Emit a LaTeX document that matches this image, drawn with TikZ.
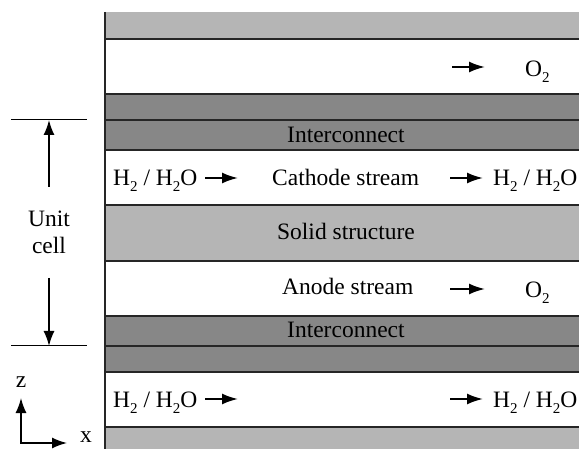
\documentclass[tikz,border=0pt]{standalone}
\usepackage{fontspec}
\setmainfont{Liberation Serif}
\usetikzlibrary{arrows.meta}
\definecolor{solidgray}{gray}{0.71}
\definecolor{icgray}{gray}{0.53}
\newcommand\lowsub[1]{\raisebox{-6pt}{\fontsize{15}{15}\selectfont #1}}

\begin{document}
\begin{tikzpicture}[x=1pt,y=-1pt,
	lbl/.style={inner sep=0pt, font=\fontsize{23.5}{27}\selectfont},
	flow/.style={-{Latex[length=16pt,width=11pt]}, line width=2pt},
	span/.style={-{Latex[length=15pt,width=11pt]}, line width=1.5pt}]
	\useasboundingbox (0,0) rectangle (579,449);
	
	% layers of the stack
	\foreach \ytop/\ybot/\col in {12/39/solidgray,94/120/icgray,120/150/icgray,205/261/solidgray,316/346/icgray,346/372/icgray,427/449/solidgray}
		\fill [\col] (105,\ytop) rectangle (579,\ybot);
	\foreach \y in {39,94,120,150,205,261,316,346,372,427}
		\draw [line width=1.3pt, black!85] (105,\y) -- (579,\y);
	\draw [line width=1.5pt, black!85] (105,12) -- (105,449);
	
	% unit cell
	\draw [line width=1pt] (11,120) -- (87,120);
	\draw [line width=1pt] (11,346) -- (87,346);
	\node [lbl, anchor=base] (unit) at (49,227) {Unit};
	\node [lbl, anchor=base] (cell) at (49,254) {cell};
	\coordinate (ctop) at (49,120);
	\coordinate (cbot) at (49,346);
	\coordinate (upfrom) at (49,187);
	\coordinate (downfrom) at (49,278);
	\draw [span] (upfrom) -- (ctop);
	\draw [span] (downfrom) -- (cbot);
	
	% axes
	\coordinate (origin) at (21,443);
	\coordinate (ztip) at (21,398);
	\coordinate (xtip) at (67,443);
	\draw [{Latex[length=15pt,width=11pt]}-{Latex[length=15pt,width=11pt]}, line width=1.5pt] (ztip) -- (origin) -- (xtip);
	\node [lbl] (zlab) at (21,382) {z};
	\node [lbl] (xlab) at (86,437) {x};
	
	% top channel
	\coordinate (o2a) at (452,67);
	\coordinate (o2b) at (485,67);
	\draw [flow] (o2a) -- (o2b);
	\node [lbl, anchor=base west] (otop) at (525,77) {O\lowsub{2}};
	\node [lbl, anchor=base west] (ictop) at (287,143) {Interconnect};
	
	% cathode stream
	\node [lbl, anchor=base west] (inc) at (113,186) {H\lowsub{2} / H\lowsub{2}O};
	\coordinate (c1a) at (205,178);
	\coordinate (c1b) at (238,178);
	\draw [flow] (c1a) -- (c1b);
	\node [lbl, anchor=base west] (cath) at (272,186) {Cathode stream};
	\coordinate (c2a) at (450,178);
	\coordinate (c2b) at (483,178);
	\draw [flow] (c2a) -- (c2b);
	\node [lbl, anchor=base west] (outc) at (493,186) {H\lowsub{2} / H\lowsub{2}O};
	
	\node [lbl, anchor=base] (solid) at (346,240) {Solid structure};
	
	% anode stream
	\node [lbl, anchor=base west] (anod) at (282,295) {Anode stream};
	\coordinate (a1a) at (450,289);
	\coordinate (a1b) at (485,289);
	\draw [flow] (a1a) -- (a1b);
	\node [lbl, anchor=base west] (oan) at (525,298) {O\lowsub{2}};
	\node [lbl, anchor=base west] (icbot) at (287,338) {Interconnect};
	
	% next cathode stream
	\node [lbl, anchor=base west] (inb) at (113,407) {H\lowsub{2} / H\lowsub{2}O};
	\coordinate (b1a) at (205,399);
	\coordinate (b1b) at (238,399);
	\draw [flow] (b1a) -- (b1b);
	\coordinate (b2a) at (450,399);
	\coordinate (b2b) at (483,399);
	\draw [flow] (b2a) -- (b2b);
	\node [lbl, anchor=base west] (outb) at (493,407) {H\lowsub{2} / H\lowsub{2}O};
	
\end{tikzpicture}
\end{document}
